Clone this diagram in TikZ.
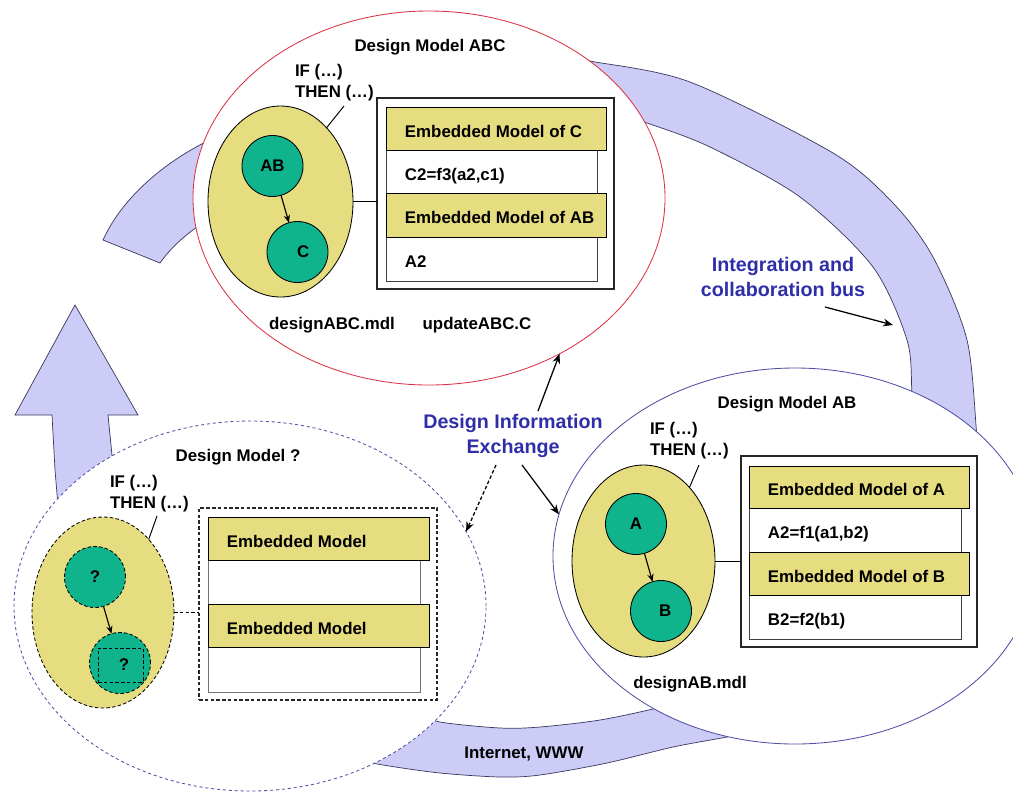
\documentclass[tikz,border=0pt]{standalone}
\usepackage{fontspec}
\setmainfont{Liberation Sans}
\usetikzlibrary{shapes.geometric,arrows.meta}
\definecolor{lav}{RGB}{204,204,246}
\definecolor{bandline}{RGB}{55,55,95}
\definecolor{ellred}{RGB}{220,50,70}
\definecolor{ellblue}{RGB}{80,80,165}
\definecolor{modelyellow}{RGB}{230,221,128}
\definecolor{modelgreen}{RGB}{16,180,140}
\definecolor{busblue}{RGB}{46,46,168}
\newcommand{\pxl}{0.025cm}
\tikzset{
  sz/.style 2 args={minimum width=#1*\pxl, minimum height=#2*\pxl},
  band/.style={fill=lav, draw=bandline, line width=0.5pt},
  modelell/.style={ellipse, fill=white, line width=0.6pt},
  rules/.style={ellipse, draw=black, fill=modelyellow, line width=0.6pt},
  comp/.style={circle, draw=black, fill=modelgreen, line width=0.6pt, minimum size=61*\pxl},
  boxframe/.style={rectangle, draw=black!85, line width=0.8pt, anchor=north west},
  cell/.style={rectangle, draw=black!75, fill=white, line width=0.6pt, anchor=north west},
  rowhead/.style={rectangle, draw=black, fill=modelyellow, line width=0.6pt, anchor=north west},
  rowtext/.style={anchor=west, xshift=13.5pt, yshift=-2pt, text height=8.6pt, text depth=0pt},
  lbl/.style={text height=8.6pt, text depth=0pt},
  ifthen/.style={anchor=north west, align=left},
  link/.style={draw=black, line width=0.7pt},
  flow/.style={draw=black, line width=0.9pt, -{Stealth[length=7pt,width=5.5pt]}},
  flowsm/.style={draw=black, line width=0.8pt, -{Stealth[length=5.5pt,width=4.5pt]}},
  note/.style={text=busblue, align=center, font=\bfseries\fontsize{14}{17.8}\selectfont},
  dsh/.style={dash pattern=on 2.5pt off 1.6pt}
}
\begin{document}
\begin{tikzpicture}[x=0.025cm, y=-0.025cm,
  every node/.style={inner sep=0pt, outer sep=0pt, font=\bfseries\fontsize{12}{15}\selectfont}]
\clip (0,0) rectangle (1013,792);

% integration and collaboration bus (ring segments behind the models)
\path[band] plot[smooth] coordinates {(575,57) (590,61) (690,82) (833,153) (893,203) (933,257) (967,340) (977,437) (982,480)}
  -- plot[smooth] coordinates {(915,430) (912,393) (907,340) (873,267) (800,197) (710,147) (647,123) (625,117)} -- cycle;
\path[band] (218,136) .. controls (165,160) and (122,198) .. (103,240)
  -- (160,263) .. controls (172,246) and (188,232) .. (212,217) -- cycle;
\path[band] (60,530) -- (55,470) -- (52,415) -- (15,415) -- (75,305) -- (138,415) -- (108,415) -- (112,455) -- (116,530) -- cycle;
\path[band] plot[smooth] coordinates {(410,712) (440,722) (500,728) (540,727) (600,720) (657,708) (690,698)}
  -- plot[smooth] coordinates {(760,730) (727,737) (673,747) (607,763) (540,775) (500,777) (440,773) (383,765) (350,758)} -- cycle;

% design models
\node[modelell, draw=ellred, sz={472}{374}] (mABC) at (429,198) {};
\node[modelell, draw=ellblue, sz={484}{376}] (mAB) at (795,556) {};
\node[modelell, draw=ellblue, dash pattern=on 2.2pt off 2pt, sz={472}{370}] (mQ) at (250,606) {};

% ---- Design Model ABC ----
\node[lbl] (tABC) at (430,45) {Design Model ABC};
\node[ifthen] (iABC) at (295,64) {IF (…)\\THEN (…)};
\node[rules, sz={145}{191}] (rABC) at (280.5,201.5) {};
\node[comp] (cAB) at (272.5,166) {AB};
\node[comp] (cC) at (297.5,252) {\hspace{8pt}C};
\draw[flowsm] (cAB) -- (cC);
\coordinate (lA) at (344,106);
\draw[link] (rABC.58) -- (lA);
\node[boxframe, sz={237}{191}] (fA) at (377,98) {};
\node[cell, sz={211}{43}] (wA1) at (386,150) {};
\node[cell, sz={211}{44}] (wA2) at (386,237) {};
\node[rowhead, sz={220}{43}] (hA1) at (386,107) {};
\node[rowhead, sz={220}{44}] (hA2) at (386,193) {};
\node[rowtext] at (hA1.west) {Embedded Model of C};
\node[rowtext] at (wA1.west) {C2=f3(a2,c1)};
\node[rowtext] at (hA2.west) {Embedded Model of AB};
\node[rowtext] at (wA2.west) {A2};
\draw[link] (rABC.east) -- (rABC.east -| fA.west);
\node[lbl] (fABC) at (332,323) {designABC.mdl};
\node[lbl] (uABC) at (477,323) {updateABC.C};

% ---- Design Model AB ----
\node[lbl] (tAB) at (787,402) {Design Model AB};
\node[ifthen] (iAB) at (650,422) {IF (…)\\THEN (…)};
\node[rules, sz={143}{192}] (rAB) at (643.5,561) {};
\node[comp] (cA) at (636,524) {A};
\node[comp] (cB) at (661,611) {\hspace{6pt}B};
\draw[flowsm] (cA) -- (cB);
\coordinate (lB) at (699,465);
\draw[link] (rAB.58) -- (lB);
\node[boxframe, sz={236}{191}] (fB) at (741,456) {};
\node[cell, sz={212}{44}] (wB1) at (749,508) {};
\node[cell, sz={212}{44}] (wB2) at (749,595) {};
\node[rowhead, sz={220}{42}] (hB1) at (749,466) {};
\node[rowhead, sz={220}{43}] (hB2) at (749,552) {};
\node[rowtext] at (hB1.west) {Embedded Model of A};
\node[rowtext] at (wB1.west) {A2=f1(a1,b2)};
\node[rowtext] at (hB2.west) {Embedded Model of B};
\node[rowtext] at (wB2.west) {B2=f2(b1)};
\draw[link] (rAB.east) -- (rAB.east -| fB.west);
\node[lbl] (fAB) at (690,682) {designAB.mdl};

% ---- Design Model ? ----
\node[lbl] (tQ) at (238,455) {Design Model ?};
\node[ifthen] (iQ) at (110,475) {IF (…)\\THEN (…)};
\node[rules, dsh, sz={142}{191}] (rQ) at (103,612.5) {};
\node[comp, dsh] (cQ1) at (95,577) {?};
\node[comp, dsh] (cQ2) at (120,663) {};
\node[rectangle, draw=black, dsh, line width=0.6pt, sz={45}{34}] (qbox) at (120.5,665) {\hspace{5pt}?};
\draw[flowsm] (cQ1) -- (cQ2);
\coordinate (lQ) at (157,516);
\draw[link] (rQ.58) -- (lQ);
\node[boxframe, dsh, sz={238}{192}] (fQ) at (199,508) {};
\node[cell, draw=black!55, sz={212}{44}] (wQ1) at (208,560) {};
\node[cell, draw=black!55, sz={212}{45}] (wQ2) at (208,647) {};
\node[rowhead, sz={221}{43}] (hQ1) at (208,517) {};
\node[rowhead, sz={221}{43}] (hQ2) at (208,604) {};
\node[rowtext] at (hQ1.west) {Embedded Model};
\node[rowtext] at (hQ2.west) {Embedded Model};
\draw[link, dsh] (rQ.east) -- (rQ.east -| fQ.west);

% ---- exchange and bus labels ----
\node[note] (die) at (513,436) {Design Information\\Exchange};
\coordinate (x1) at (538,411);
\coordinate (x2) at (522,465);
\coordinate (x3) at (496,465);
\draw[flow] (x1) -- (mABC.-50);
\draw[flow] (x2) -- (mAB.170);
\draw[flow, dsh] (x3) -- (mQ.19);

\node[note] (bus) at (783,277) {Integration and\\collaboration bus};
\coordinate (b1) at (825,307);
\coordinate (b2) at (893,325);
\draw[flow] (b1) -- (b2);

\node[lbl] (www) at (524,752) {Internet, WWW};
\end{tikzpicture}
\end{document}
